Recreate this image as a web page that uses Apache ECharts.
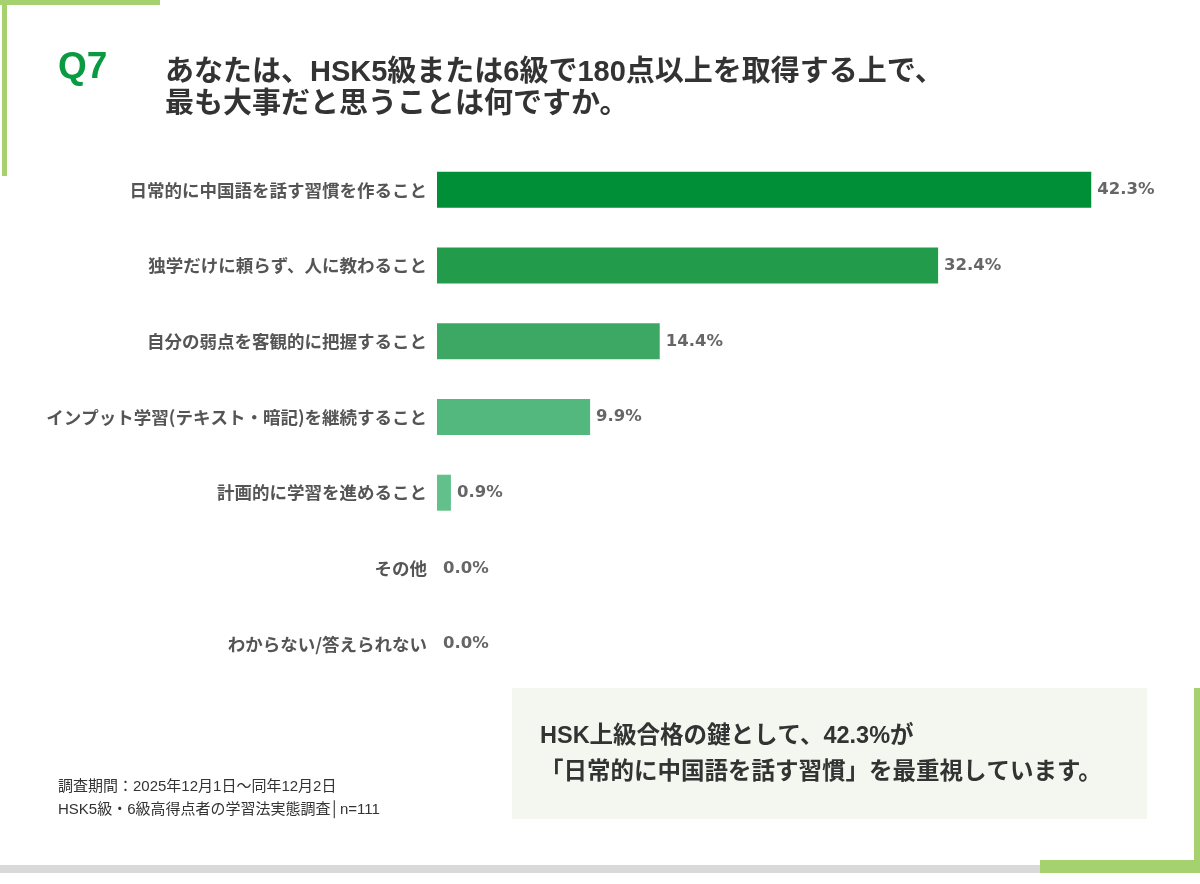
<!DOCTYPE html>
<html>
<head>
<meta charset="UTF-8">
<title>Q7</title>
<script src="https://cdn.jsdelivr.net/npm/echarts@6/dist/echarts.min.js"></script>
<style>
  html, body { margin: 0; padding: 0; background: #fff; }
  #chart { width: 1200px; height: 884px; }
</style>
</head>
<body>
<div id="chart"></div>
<script>
// 選択肢
var categories = [
  '日常的に中国語を話す習慣を作ること',
  '独学だけに頼らず、人に教わること',
  '自分の弱点を客観的に把握すること',
  'インプット学習(テキスト・暗記)を継続すること',
  '計画的に学習を進めること',
  'その他',
  'わからない/答えられない'
];
// 割合(%)
var values = [42.3, 32.4, 14.4, 9.9, 0.9, 0.0, 0.0];
// バーの色（上から順に）
var barColors = ['#008f36', '#229c4b', '#3ca864', '#53b87e', '#62c08b', '#6cc594', '#6cc594'];

var jp = '"Liberation Sans", "Noto Sans CJK JP", sans-serif';
var green = '#a5d16f';

var chart = echarts.init(document.getElementById('chart'));

var option = {
  backgroundColor: '#fff',
  animation: false,
  grid: { left: 437, top: 152, height: 530, right: 67, containLabel: false },
  xAxis: {
    type: 'value', min: 0, max: 45, show: false
  },
  yAxis: {
    type: 'category',
    inverse: true,
    data: categories,
    axisLine: { show: false },
    axisTick: { show: false },
    splitLine: { show: false },
    axisLabel: {
      margin: 10,
      color: '#555',
      fontSize: 17.5,
      fontWeight: 'bold',
      fontFamily: '"Noto Sans CJK JP", sans-serif'
    }
  },
  series: [{
    type: 'bar',
    barWidth: 36,
    data: values.map(function (v, i) {
      return { value: v, itemStyle: { color: barColors[i] } };
    }),
    label: {
      show: true,
      position: 'right',
      distance: 6,
      color: '#666',
      fontSize: 16.5,
      fontWeight: 'bold',
      fontFamily: '"DejaVu Sans", sans-serif',
      formatter: function (p) { return p.value.toFixed(1) + '%'; }
    }
  }],
  graphic: [
    // 左上の飾り線
    { type: 'rect', shape: { x: 0, y: 0, width: 160, height: 5 }, style: { fill: green } },
    { type: 'rect', shape: { x: 2, y: 0, width: 5, height: 176 }, style: { fill: green } },
    // 右下の飾り線
    { type: 'rect', shape: { x: 0, y: 865, width: 1045, height: 8 }, style: { fill: '#d9d9d9' } },
    { type: 'rect', shape: { x: 1040, y: 860, width: 160, height: 13 }, style: { fill: green } },
    { type: 'rect', shape: { x: 1194, y: 688, width: 6, height: 185 }, style: { fill: green } },
    // タイトル
    {
      type: 'text', x: 58, y: 68,
      style: { text: 'Q7', fill: '#0a9a42', verticalAlign: 'middle', font: 'bold 37px "Liberation Sans", Arial, sans-serif' }
    },
    {
      type: 'text', x: 165, y: 73,
      style: { text: 'あなたは、HSK5級または6級で180点以上を取得する上で、', fill: '#333', verticalAlign: 'middle', font: 'bold 29px ' + jp }
    },
    {
      type: 'text', x: 165, y: 105,
      style: { text: '最も大事だと思うことは何ですか。', fill: '#333', verticalAlign: 'middle', font: 'bold 29px ' + jp }
    },
    // まとめボックス
    { type: 'rect', shape: { x: 512, y: 688, width: 635, height: 131 }, style: { fill: '#f3f7ef' } },
    {
      type: 'text', x: 540, y: 737,
      style: { text: 'HSK上級合格の鍵として、42.3%が', fill: '#333', verticalAlign: 'middle', font: 'bold 23.5px ' + jp }
    },
    {
      type: 'text', x: 540, y: 773,
      style: { text: '「日常的に中国語を話す習慣」を最重視しています。', fill: '#333', verticalAlign: 'middle', font: 'bold 23.5px ' + jp }
    },
    // 調査概要
    {
      type: 'text', x: 58, y: 787,
      style: { text: '調査期間：2025年12月1日～同年12月2日', fill: '#333', verticalAlign: 'middle', font: '15px ' + jp }
    },
    {
      type: 'text', x: 58, y: 810,
      style: { text: 'HSK5級・6級高得点者の学習法実態調査│n=111', fill: '#333', verticalAlign: 'middle', font: '15px ' + jp }
    }
  ]
};

chart.setOption(option);
</script>
</body>
</html>
